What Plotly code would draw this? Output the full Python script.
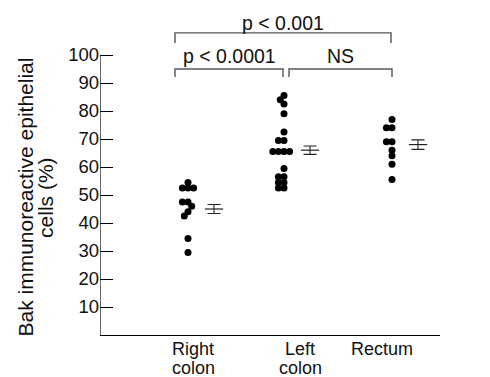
import math
import plotly.graph_objects as go

# ---- data ----
groups = [["Right", "colon"], ["Left", "colon"], ["Rectum"]]
right_colon = [54.5, 52.5, 52.5, 52.5, 47.5, 47.5, 46, 44, 42.5, 34.5, 29.5]
left_colon = [85.5, 84, 82.5, 79, 72.5, 69.5, 69.5, 65.5, 65.5, 65.5, 65.5,
              59.5, 56.5, 56.5, 54.5, 54.5, 52.5, 52.5]
rectum = [77, 74, 74, 69, 69, 66, 64, 61, 55.5]
means = [45, 66, 68]
sems = [1.6, 1.5, 1.7]
y_ticks = [10, 20, 30, 40, 50, 60, 70, 80, 90, 100]
comparisons = ["p < 0.0001", "NS", "p < 0.001"]
y_title = ["Bak immunoreactive epithelial", "cells (%)"]

# ---- layout constants (x axis in pixel-like units) ----
cat_x = [88, 184, 292]        # swarm centres
mean_dx = 26                  # mean/SE marker offset to the right
label_x = [93, 200, 282]      # category label positions
label_line_y = [-0.046, -0.108]   # paper y of the two label lines
KY = 2.8                      # px per y unit
Y_MAX = 110
DOT_D = 5.6                   # collision distance (px)
DOT_SIZE = 7


def swarm(values, d=DOT_D, ky=KY):
    placed = []
    offs = [0.0] * len(values)
    order = sorted(range(len(values)), key=lambda i: -values[i])
    for i in order:
        y = values[i] * ky
        iv = []
        for xj, yj in placed:
            dy = abs(y - yj)
            if dy < d:
                w = math.sqrt(d * d - dy * dy)
                iv.append((xj - w, xj + w))
        cands = [0.0] + [a for a, b in iv] + [b for a, b in iv]
        ok = [c for c in cands if all(not (a + 1e-6 < c < b - 1e-6) for a, b in iv)]
        best = min(ok, key=lambda c: (round(abs(c), 6), c))
        offs[i] = best
        placed.append((best, y))
    return offs


fig = go.Figure()
for cx, vals in zip(cat_x, [right_colon, left_colon, rectum]):
    offs = swarm(vals)
    fig.add_trace(go.Scatter(
        x=[cx + o for o in offs], y=vals, mode="markers",
        marker=dict(color="black", size=DOT_SIZE, line=dict(width=0)),
        showlegend=False, hoverinfo="y"))

fig.add_trace(go.Scatter(
    x=[c + mean_dx for c in cat_x], y=means, mode="markers",
    marker=dict(symbol="line-ew", size=13, color="#222",
                line=dict(width=1.2, color="#222")),
    error_y=dict(type="data", array=sems, visible=True, width=6.5,
                 thickness=1.1, color="#222"),
    showlegend=False))

# y axis line (0..100 only)
fig.add_shape(type="line", x0=0, x1=0, y0=0, y1=100, xref="x", yref="y",
              line=dict(color="black", width=1.2))

# significance brackets: x0, x1, bar y, leg end y, label y
bcol = "#555"
brackets = [
    (cat_x[0] - 13, cat_x[1] - 1, 95, 92.1, 99.6, comparisons[0]),
    (cat_x[1] + 5, cat_x[2], 95, 92.1, 99.6, comparisons[1]),
    (cat_x[0] - 13, cat_x[2] - 1, 107.9, 104.3, 111.3, comparisons[2]),
]
for x0, x1, ytop, ybot, ylab, txt in brackets:
    fig.add_shape(type="path",
                  path=f"M {x0},{ybot} L {x0},{ytop} L {x1},{ytop} L {x1},{ybot}",
                  xref="x", yref="y", line=dict(color=bcol, width=1.4))
    fig.add_annotation(x=(x0 + x1) / 2, y=ylab / Y_MAX, xref="x", yref="paper",
                       text=txt, showarrow=False, yanchor="middle",
                       font=dict(size=19.5, color="#111"))

# category labels
for lx, lines in zip(label_x, groups):
    for ly, txt in zip(label_line_y, lines):
        fig.add_annotation(x=lx, y=ly, xref="x", yref="paper", text=txt,
                           showarrow=False, xanchor="center", yanchor="middle",
                           font=dict(size=18, color="#111"))

for txt, px in zip(y_title, [-0.222, -0.162]):
    fig.add_annotation(text=txt, xref="paper", yref="paper", x=px, y=0.448,
                       xanchor="center", yanchor="middle", textangle=-90,
                       showarrow=False, font=dict(size=21, color="#111"))

# figure is offset 8px by the page body margin, so size it to fit the window
fig.update_layout(
    width=482, height=369,
    margin=dict(l=92, r=50, t=19, b=42, autoexpand=False),
    paper_bgcolor="white", plot_bgcolor="white",
    font=dict(family="Liberation Sans, Arial, sans-serif", color="#111"),
    xaxis=dict(range=[0, 340], showgrid=False, zeroline=False,
               showline=True, linecolor="black", linewidth=1.2,
               ticks="", showticklabels=False, automargin=False),
    yaxis=dict(range=[0, Y_MAX], showgrid=False, zeroline=False,
               showline=False, ticks="inside", ticklen=13, tickwidth=1.2,
               tickcolor="black", tickvals=y_ticks,
               tickfont=dict(size=18.5), automargin=False),
)

fig.write_html("out.html")
